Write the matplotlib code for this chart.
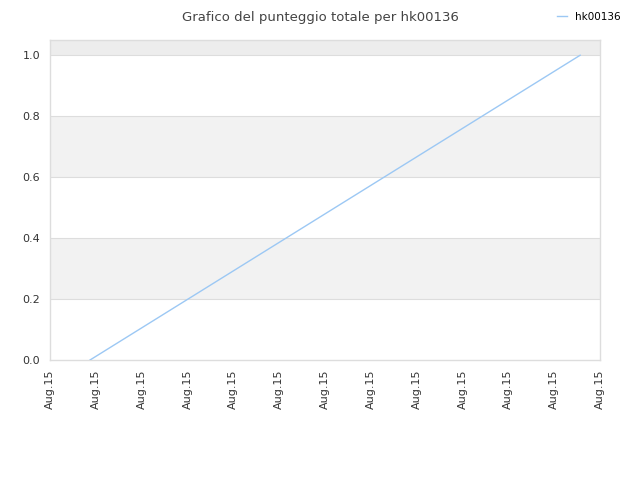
from datetime import datetime, timedelta

import matplotlib
matplotlib.use("Agg")
import matplotlib.pyplot as plt
import matplotlib.dates as mdates

# --- DATA ---
player = "hk00136"
times = [datetime(2015, 8, 15, 0, 4, 22), datetime(2015, 8, 15, 0, 57, 50)]
scores = [0.0, 1.0]
y_ticks = [0.0, 0.2, 0.4, 0.6, 0.8, 1.0]

x_start = datetime(2015, 8, 15, 0, 0)
x_ticks = [x_start + timedelta(minutes=5 * i) for i in range(13)]

# --- STYLE ---
LINE_COLOR = "#9cc8f4"
GRID_COLOR = "#dddddd"
BAND_COLOR = "#f2f2f2"
TOP_BAND = "#ededed"
TEXT_COLOR = "#333333"

fig = plt.figure(figsize=(6.4, 4.8), dpi=100)
ax = fig.add_axes([50 / 640, 120 / 480, 550 / 640, 320 / 480])

ax.set_ylim(0, 1.05)
ax.set_xlim(x_ticks[0], x_ticks[-1])

# alternating bands
ax.axhspan(0.2, 0.4, color=BAND_COLOR, zorder=0, lw=0)
ax.axhspan(0.6, 0.8, color=BAND_COLOR, zorder=0, lw=0)
ax.axhspan(1.0, 1.05, color=TOP_BAND, zorder=0, lw=0)
for y in y_ticks[1:]:
    ax.axhline(y, color=GRID_COLOR, lw=0.8, zorder=1)

ax.plot(times, scores, color=LINE_COLOR, lw=1, label=player, zorder=3)

ax.set_yticks(y_ticks)
ax.set_yticklabels([f"{v:.1f}" for v in y_ticks])
ax.set_xticks(x_ticks)
ax.xaxis.set_major_formatter(mdates.DateFormatter("%b.%d"))
plt.setp(ax.get_xticklabels(), rotation=90)
ax.tick_params(axis="both", length=0, labelsize=8, colors=TEXT_COLOR, pad=7)

for s in ax.spines.values():
    s.set_color(GRID_COLOR)
    s.set_linewidth(1)

fig.text(0.5, 0.977, f"Grafico del punteggio totale per {player}",
         ha="center", va="top", fontsize=9.5, color="#444444")
fig.legend(loc="upper right", bbox_to_anchor=(0.985, 0.995), frameon=False,
           fontsize=7.5, handlelength=1.0, handletextpad=0.8)

fig.savefig("out.png", dpi=100)
